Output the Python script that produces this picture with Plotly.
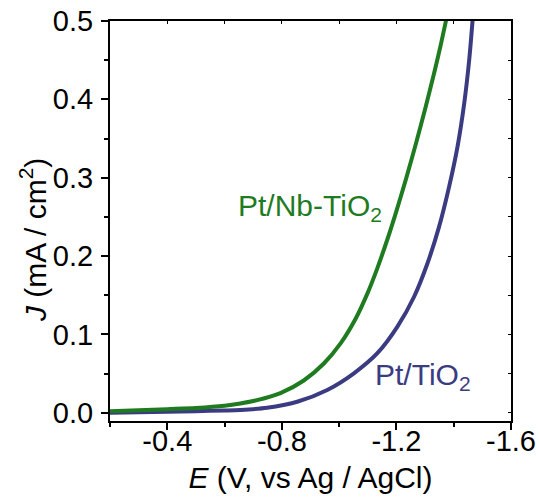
import plotly.graph_objects as go

# Data
E_nb = [-0.20, -0.30, -0.40, -0.50, -0.60, -0.655, -0.7135, -0.795, -0.8766, -0.9466,
        -1.005, -1.0575, -1.0985, -1.1335, -1.1685, -1.1975, -1.2325, -1.2675,
        -1.3025, -1.3317, -1.355, -1.373]
J_nb = [0.002, 0.003, 0.0045, 0.006, 0.0088, 0.0117, 0.0160, 0.0250, 0.0411, 0.0628,
        0.0885, 0.1200, 0.1520, 0.1846, 0.2214, 0.2545, 0.2972, 0.3427,
        0.391, 0.4336, 0.4699, 0.5004]

E_ti = [-0.20, -0.30, -0.40, -0.50, -0.60, -0.655, -0.7485, -0.8535, -0.9585, -1.0516,
        -1.1335, -1.2035, -1.2616, -1.3085, -1.349, -1.384, -1.4135, -1.4367,
        -1.454, -1.466]
J_ti = [0.0, 0.0007, 0.0013, 0.002, 0.0028, 0.0035, 0.0062, 0.014, 0.029, 0.0503,
        0.0759, 0.1098, 0.148, 0.1908, 0.2375, 0.2886, 0.340, 0.395,
        0.450, 0.5015]

x_ticks = [-0.4, -0.8, -1.2, -1.6]
x_ticktext = ["-0.4", "-0.8", "-1.2", "-1.6"]
x_minor = [-0.2, -0.6, -1.0, -1.4]
x_all = [-0.2, -0.4, -0.6, -0.8, -1.0, -1.2, -1.4]
y_ticks = [0.0, 0.1, 0.2, 0.3, 0.4, 0.5]
y_ticktext = ["0.0", "0.1", "0.2", "0.3", "0.4", "0.5"]
y_minor = [0.05, 0.15, 0.25, 0.35, 0.45]
y_all = [0.0, 0.05, 0.1, 0.15, 0.2, 0.25, 0.3, 0.35, 0.4, 0.45]

GREEN = "#1f7b1f"
BLUE = "#3b3b82"
FONT = "Liberation Sans, Arial, sans-serif"

fig = go.Figure()
fig.add_trace(go.Scatter(x=E_ti, y=J_ti, mode="lines",
                         line=dict(color=BLUE, width=4, shape="spline", smoothing=0.8),
                         showlegend=False, hoverinfo="skip", cliponaxis=True))
fig.add_trace(go.Scatter(x=E_nb, y=J_nb, mode="lines",
                         line=dict(color=GREEN, width=4, shape="spline", smoothing=0.8),
                         showlegend=False, hoverinfo="skip", cliponaxis=True))

xr = [-0.2, -1.6]
yr = [-0.0106, 0.5]

fig.update_layout(
    width=540, height=503,
    margin=dict(l=110, r=29, t=21, b=82, autoexpand=False),
    paper_bgcolor="white", plot_bgcolor="white",
    font=dict(family=FONT, size=29, color="black"),
    # bottom axis: line and ticks
    xaxis=dict(range=xr, tickvals=x_ticks, ticks="outside", ticklen=7, tickwidth=2, showticklabels=False,
               tickcolor="black", showline=True, linecolor="black", linewidth=2, showgrid=False, zeroline=False,
               automargin=False,
               minor=dict(tickvals=x_minor, ticks="outside", ticklen=4, tickwidth=2, tickcolor="black", showgrid=False)),
    # bottom axis: labels and title
    xaxis3=dict(range=xr, overlaying="x", side="bottom", anchor="y", tickvals=x_ticks, ticktext=x_ticktext,
                ticks="", showline=False, showgrid=False, zeroline=False, automargin=False,
                tickfont=dict(size=29), ticklabelstandoff=0,
                title=dict(text="<i>E</i> (V, vs Ag / AgCl)", font=dict(size=30), standoff=10)),
    yaxis=dict(range=yr, tickvals=y_ticks, ticktext=y_ticktext, ticks="outside", ticklen=7, tickwidth=2,
               tickcolor="black", showline=True, linecolor="black", linewidth=2, showgrid=False, zeroline=False,
               tickfont=dict(size=29), ticklabelstandoff=2, automargin=False,
               minor=dict(tickvals=y_minor, ticks="outside", ticklen=4, tickwidth=2, tickcolor="black", showgrid=False)),
    xaxis2=dict(range=xr, overlaying="x", side="top", tickvals=x_all, ticks="inside", ticklen=3, tickwidth=1,
                tickcolor="black", showticklabels=False, showline=True, linecolor="black", linewidth=2,
                showgrid=False, zeroline=False, automargin=False),
    yaxis2=dict(range=yr, overlaying="y", side="right", tickvals=y_all, ticks="inside", ticklen=3, tickwidth=1,
                tickcolor="black", showticklabels=False, showline=True, linecolor="black", linewidth=2,
                showgrid=False, zeroline=False, automargin=False),
    annotations=[
        dict(text="<i>J</i> (mA / cm<sup>2</sup>)", xref="paper", yref="paper", x=-0.192, y=0.4525,
             xanchor="center", yanchor="middle", textangle=-90, showarrow=False, font=dict(size=30)),
        dict(text="Pt/Nb-TiO<sub>2</sub>", xref="x", yref="y", x=-0.2 - (236 - 110) / 285.7, y=0.262,
             xanchor="left", yanchor="middle", showarrow=False, font=dict(size=30, color=GREEN)),
        dict(text="Pt/TiO<sub>2</sub>", xref="x", yref="y", x=-0.2 - (372 - 110) / 285.7, y=0.046,
             xanchor="left", yanchor="middle", showarrow=False, font=dict(size=30, color=BLUE)),
    ],
)
# empty traces so that the overlay axes are drawn
fig.add_trace(go.Scatter(x=[], y=[], xaxis="x2", yaxis="y2", showlegend=False))
fig.add_trace(go.Scatter(x=[], y=[], xaxis="x3", yaxis="y", showlegend=False))

fig.write_html("out.html")
